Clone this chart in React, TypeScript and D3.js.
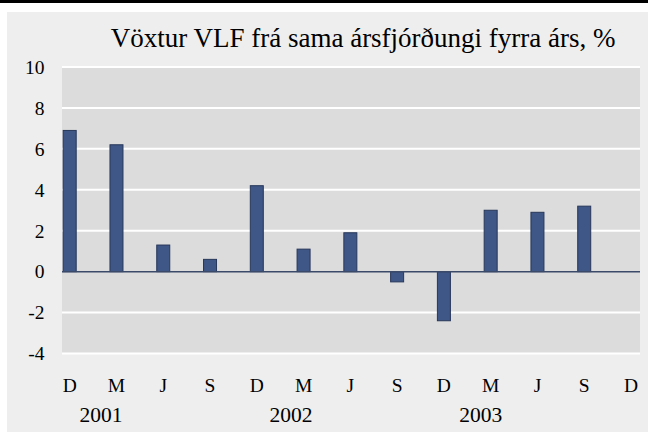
import React from "react";
import * as d3 from "d3";

const categories = ["D", "M", "J", "S", "D", "M", "J", "S", "D", "M", "J", "S", "D"];
const values: (number | null)[] = [6.9, 6.2, 1.3, 0.6, 4.2, 1.1, 1.9, -0.5, -2.4, 3.0, 2.9, 3.2, null];
const yTicks = [10, 8, 6, 4, 2, 0, -2, -4];
const years = ["2001", "2002", "2003"];
const yearIndexPos = [0.67, 4.73, 8.79];
const title = "Vöxtur VLF frá sama ársfjórðungi fyrra árs, %";

const W = 648;
const H = 432;
const plot = { left: 62, right: 640, top: 67, bottom: 353.5 };
const FONT = "'Liberation Serif', 'Times New Roman', serif";

export default function App() {
  const y = d3.scaleLinear().domain([-4, 10]).range([plot.bottom, plot.top]);
  const xi = d3.scaleLinear().domain([0, categories.length - 1]).range([69.7, 631]);
  const barW = 13;

  return (
    <svg
      width={W}
      height={H}
      style={{ position: "absolute", left: 0, top: 0, display: "block" }}
    >
      <rect x={0} y={0} width={W} height={H} fill="#ffffff" />
      <rect x={0} y={0} width={W} height={3} fill="#000000" />
      <rect x={7} y={12} width={W - 7} height={H - 12} fill="#eeeeee" />
      <rect
        x={plot.left}
        y={plot.top}
        width={plot.right - plot.left}
        height={plot.bottom - plot.top}
        fill="#dcdcdc"
      />
      {yTicks
        .filter((t) => t !== 0)
        .map((t) => (
          <line
            key={"g" + t}
            x1={plot.left}
            x2={plot.right}
            y1={y(t)}
            y2={y(t)}
            stroke="#ffffff"
            strokeWidth={2}
          />
        ))}
      {values.map((v, i) =>
        v === null ? null : (
          <rect
            key={"b" + i}
            x={xi(i) - barW / 2}
            y={Math.min(y(v), y(0))}
            width={barW}
            height={Math.abs(y(v) - y(0))}
            fill="#3f5786"
            stroke="#27375a"
            strokeWidth={1}
          />
        )
      )}
      <line
        x1={plot.left}
        x2={plot.right}
        y1={y(0)}
        y2={y(0)}
        stroke="#3b4a68"
        strokeWidth={1.5}
      />
      {yTicks.map((t) => (
        <text
          key={"t" + t}
          x={44.5}
          y={y(t)}
          dy="0.35em"
          textAnchor="end"
          fontFamily={FONT}
          fontSize={19.5}
          fill="#000"
        >
          {t}
        </text>
      ))}
      {categories.map((c, i) => (
        <text
          key={"c" + i}
          x={xi(i)}
          y={391.5}
          textAnchor="middle"
          fontFamily={FONT}
          fontSize={19.5}
          fill="#000"
        >
          {c}
        </text>
      ))}
      {years.map((yr, i) => (
        <text
          key={"y" + yr}
          x={xi(yearIndexPos[i])}
          y={422}
          textAnchor="middle"
          fontFamily={FONT}
          fontSize={21.5}
          fill="#000"
        >
          {yr}
        </text>
      ))}
      <text x={110.7} y={47} fontFamily={FONT} fontSize={27} fill="#000">
        {title}
      </text>
    </svg>
  );
}
